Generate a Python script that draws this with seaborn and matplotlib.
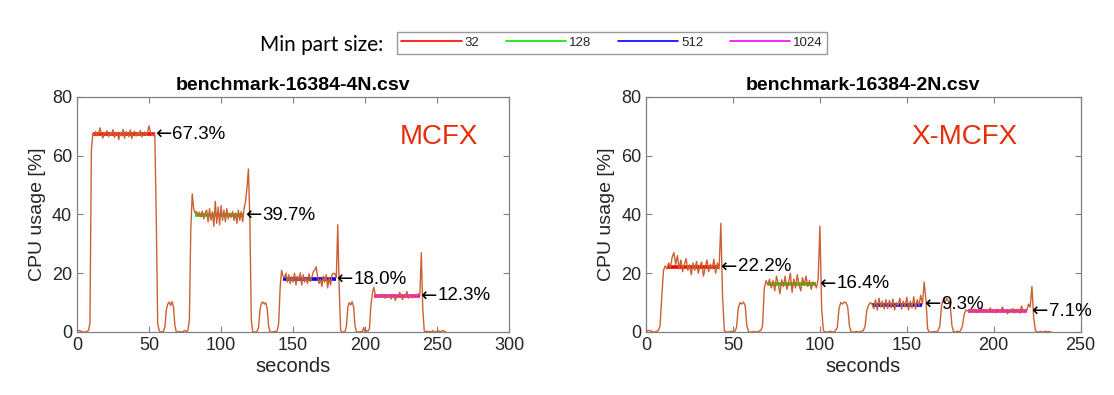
import numpy as np
import matplotlib
matplotlib.use("Agg")
import matplotlib.pyplot as plt
import seaborn as sns
from matplotlib.lines import Line2D

# --- data (1 sample per second) ---
cpu_4n = [
    0.3, 0.5, 0.4, 0.2, 0.0, 0.0, 0.0, 0.3, 0.5, 3.0,           # 0
    62.0, 67.5, 67.0, 68.2, 66.8, 67.5, 69.5, 67.2, 66.0, 68.0,  # 10
    67.4, 68.5, 66.5, 67.8, 67.0, 68.9, 66.2, 67.5, 68.0, 65.5,  # 20
    67.9, 66.8, 69.0, 66.0, 68.2, 67.5, 66.5, 68.8, 65.9, 67.6,  # 30
    68.3, 66.7, 67.9, 67.0, 68.6, 66.4, 67.5, 68.1, 66.9, 67.8,  # 40
    70.2, 68.0, 67.2, 66.8, 67.8, 40.0, 3.0, 0.5, 0.0, 0.0,      # 50
    0.3, 1.5, 7.5, 9.5, 10.2, 9.0, 10.3, 8.5, 2.0, 0.0,          # 60
    0.0, 0.2, 0.0, 0.0, 0.3, 0.5, 0.2, 0.5, 4.0, 35.0,           # 70
    47.0, 42.0, 40.5, 41.0, 39.5, 40.8, 39.2, 41.2, 38.5, 40.5,  # 80
    41.5, 37.5, 42.0, 38.0, 41.0, 36.0, 44.5, 37.0, 42.5, 36.5,  # 90
    43.0, 38.0, 41.5, 37.5, 42.0, 38.5, 40.5, 39.0, 41.0, 38.0,  # 100
    40.5, 37.0, 41.5, 38.0, 41.0, 37.5, 42.0, 44.5, 49.0, 55.5,  # 110
    38.0, 4.0, 0.0, 0.0, 0.0, 0.3, 1.5, 7.5, 9.8, 10.2,          # 120
    9.5, 10.0, 8.0, 2.0, 0.0, 0.0, 0.0, 0.2, 0.0, 0.5,           # 130
    3.0, 15.0, 21.0, 19.0, 18.5, 20.0, 17.0, 19.5, 16.5, 18.8,   # 140
    17.0, 20.0, 16.0, 19.0, 17.5, 20.2, 16.0, 19.5, 17.0, 18.5,  # 150
    16.5, 19.8, 17.2, 18.5, 20.5, 21.0, 22.2, 19.0, 16.5, 18.0,  # 160
    15.5, 19.0, 17.0, 19.5, 15.0, 18.5, 16.0, 19.5, 20.0, 19.8,  # 170
    18.5, 36.5, 15.0, 0.5, 0.0, 0.0, 0.0, 2.0, 8.5, 10.0,        # 180
    9.2, 10.3, 8.5, 2.0, 0.0, 0.0, 0.0, 0.2, 0.0, 1.5,           # 190
    0.0, 0.5, 0.3, 1.0, 9.0, 13.0, 15.2, 12.8, 12.0, 12.6,       # 200
    12.3, 11.8, 12.9, 12.2, 11.5, 12.6, 12.0, 12.4, 11.2, 12.8,  # 210
    12.0, 10.8, 12.5, 11.9, 13.5, 12.2, 11.0, 12.6, 12.0, 13.8,  # 220
    11.5, 12.4, 12.0, 11.6, 12.5, 12.8, 12.3, 13.0, 12.5, 27.0,  # 230
    8.0, 0.5, 0.0, 0.3, 0.0, 0.2, 0.0, 0.5, 0.0, 0.0,            # 240
    0.2, 0.4, 0.0, 0.3, 0.5, 0.2, 0.0,                           # 250
]

cpu_2n = [
    0.3, 0.5, 0.5, 0.3, 0.0, 0.0, 0.2, 0.5, 2.0, 12.0,           # 0
    21.0, 22.5, 21.5, 23.5, 22.0, 25.5, 27.0, 23.0, 26.0, 21.5,  # 10
    24.5, 20.5, 23.0, 25.0, 21.0, 22.8, 19.5, 23.5, 21.0, 24.0,  # 20
    20.0, 22.5, 23.8, 19.0, 22.0, 24.5, 20.5, 23.0, 21.5, 24.8,  # 30
    20.0, 23.5, 21.5, 37.0, 12.0, 0.5, 0.0, 0.0, 0.0, 0.3,       # 40
    0.0, 0.2, 1.5, 8.0, 10.0, 9.5, 10.2, 9.0, 2.0, 0.0,          # 50
    0.0, 0.0, 0.2, 0.0, 0.0, 0.3, 0.5, 2.0, 15.0, 17.5,          # 60
    16.0, 18.0, 15.0, 17.5, 14.0, 19.0, 16.5, 13.0, 17.8, 15.5,  # 70
    19.0, 14.5, 17.0, 20.0, 13.5, 18.0, 15.0, 19.5, 16.0, 14.0,  # 80
    18.5, 16.0, 19.0, 15.5, 17.5, 14.5, 17.0, 16.5, 15.0, 18.0,  # 90
    36.0, 8.0, 0.5, 0.0, 0.0, 0.0, 0.3, 0.0, 0.0, 0.5,           # 100
    1.5, 8.0, 10.0, 9.5, 10.2, 10.0, 8.5, 2.0, 0.0, 0.0,         # 110
    0.0, 0.2, 0.0, 0.0, 0.3, 0.5, 2.0, 7.5, 9.0, 10.0,           # 120
    9.5, 8.0, 11.0, 7.5, 11.5, 8.5, 10.5, 7.8, 11.0, 8.0,        # 130
    10.8, 8.2, 11.2, 7.5, 10.0, 9.0, 11.5, 7.8, 10.5, 8.5,       # 140
    11.8, 7.5, 10.5, 8.2, 12.0, 7.8, 11.0, 9.0, 12.5, 9.5,       # 150
    17.0, 11.0, 1.0, 0.0, 0.0, 0.0, 0.2, 0.0, 0.5, 2.0,          # 160
    9.0, 11.0, 10.0, 11.5, 10.5, 9.0, 2.0, 0.0, 0.0, 0.3,        # 170
    0.0, 0.5, 2.0, 6.0, 7.5, 7.2, 6.8, 7.5, 7.0, 7.8,            # 180
    6.5, 7.4, 7.0, 8.0, 6.8, 7.2, 7.5, 6.6, 8.2, 7.0,            # 190
    7.3, 6.5, 7.8, 7.1, 6.8, 8.5, 7.0, 7.4, 6.2, 7.6,            # 200
    7.0, 8.0, 6.5, 7.2, 7.8, 6.4, 8.8, 7.0, 7.5, 7.2,            # 210
    9.5, 8.5, 15.5, 5.0, 0.5, 0.0, 0.0, 0.2, 0.0, 0.0,           # 220
    0.3, 0.0, 0.2, 0.0,                                          # 230
]

part_sizes = ["32", "128", "512", "1024"]
part_colors = ["#ff0000", "#00e600", "#0000ff", "#ff00ff"]

# mean-level segments: start, end, mean
means_4n = [67.3, 39.7, 18.0, 12.3]
seg_start_4n = [11, 82, 143, 206]
seg_end_4n = [54, 116, 180, 238]
label_x_4n = [55, 117.5, 181, 239]

means_2n = [22.2, 16.4, 9.3, 7.1]
seg_start_2n = [12, 70, 130, 185]
seg_end_2n = [42, 98, 159, 219]
label_x_2n = [43.5, 100.5, 160.5, 222.5]

sns.set_style("white")
plt.rcParams['font.family'] = ['Liberation Sans', 'DejaVu Sans']

fig = plt.figure(figsize=(11.14, 3.95), dpi=100)
ax1 = fig.add_axes([0.0691, 0.1595, 0.388, 0.595])
ax2 = fig.add_axes([0.580, 0.1595, 0.390, 0.595])

line_color = "#cc6033"
grey = "#808080"
txt = "#262626"

panels = [
    (ax1, cpu_4n, means_4n, seg_start_4n, seg_end_4n, label_x_4n,
     "benchmark-16384-4N.csv", 300, "MCFX", 251),
    (ax2, cpu_2n, means_2n, seg_start_2n, seg_end_2n, label_x_2n,
     "benchmark-16384-2N.csv", 250, "X-MCFX", 183),
]

for ax, vals, means, s0, s1, lx, title, xmax, tag, tag_x in panels:
    t = np.arange(len(vals))
    for m, a, b, c in zip(means, s0, s1, part_colors):
        ax.hlines(m, a, b, colors=c, linewidth=2.6, zorder=2)
    sns.lineplot(x=t, y=vals, ax=ax, color=line_color, linewidth=1.0, zorder=3)
    for m, x in zip(means, lx):
        # arrow glyph then the value label right after it
        ax.annotate("\u2190", xy=(x, m), xytext=(-1, 0), textcoords="offset points",
                    fontsize=14, family=["DejaVu Sans"], va="center", ha="left",
                    color="black", zorder=4)
        ax.annotate(f"{m:.1f}%", xy=(x, m), xytext=(11.5, 0), textcoords="offset points",
                    fontsize=13.5, va="center", ha="left", color="black", zorder=4)
    ax.text(tag_x, 66.5, tag, fontsize=20, color="#e62e0c", ha="center", va="center")
    ax.set_xlim(0, xmax)
    ax.set_ylim(0, 80)
    ax.set_xticks(np.arange(0, xmax + 1, 50))
    ax.set_yticks(np.arange(0, 81, 20))
    ax.set_title(title, fontsize=14, fontweight="bold", color="black", pad=5)
    ax.set_xlabel("seconds", fontsize=14.5, color=txt, labelpad=2)
    ax.set_ylabel("CPU usage [%]", fontsize=14, color=txt, labelpad=4)
    ax.tick_params(direction="in", length=4, width=0.8, colors=grey,
                   labelcolor=txt, labelsize=13, top=True, right=True,
                   bottom=True, left=True)
    for sp in ax.spines.values():
        sp.set_visible(True)
        sp.set_color(grey)
        sp.set_linewidth(0.9)

fig.text(322 / 1114, 1 - 45 / 395, "Min part size:", fontsize=15,
         family=["Lato", "DejaVu Sans"], ha="center", va="center", color="black")

handles = [Line2D([0], [0], color=c, linewidth=1.2) for c in part_colors]
fig.legend(handles, part_sizes, ncol=4, loc="center",
           bbox_to_anchor=(612 / 1114, 1 - 43 / 395), fontsize=9.5,
           frameon=True, fancybox=False, edgecolor=grey, handlelength=4.6,
           handletextpad=0.2, columnspacing=2.0, borderpad=0.35)

fig.savefig("out.png", dpi=100)
